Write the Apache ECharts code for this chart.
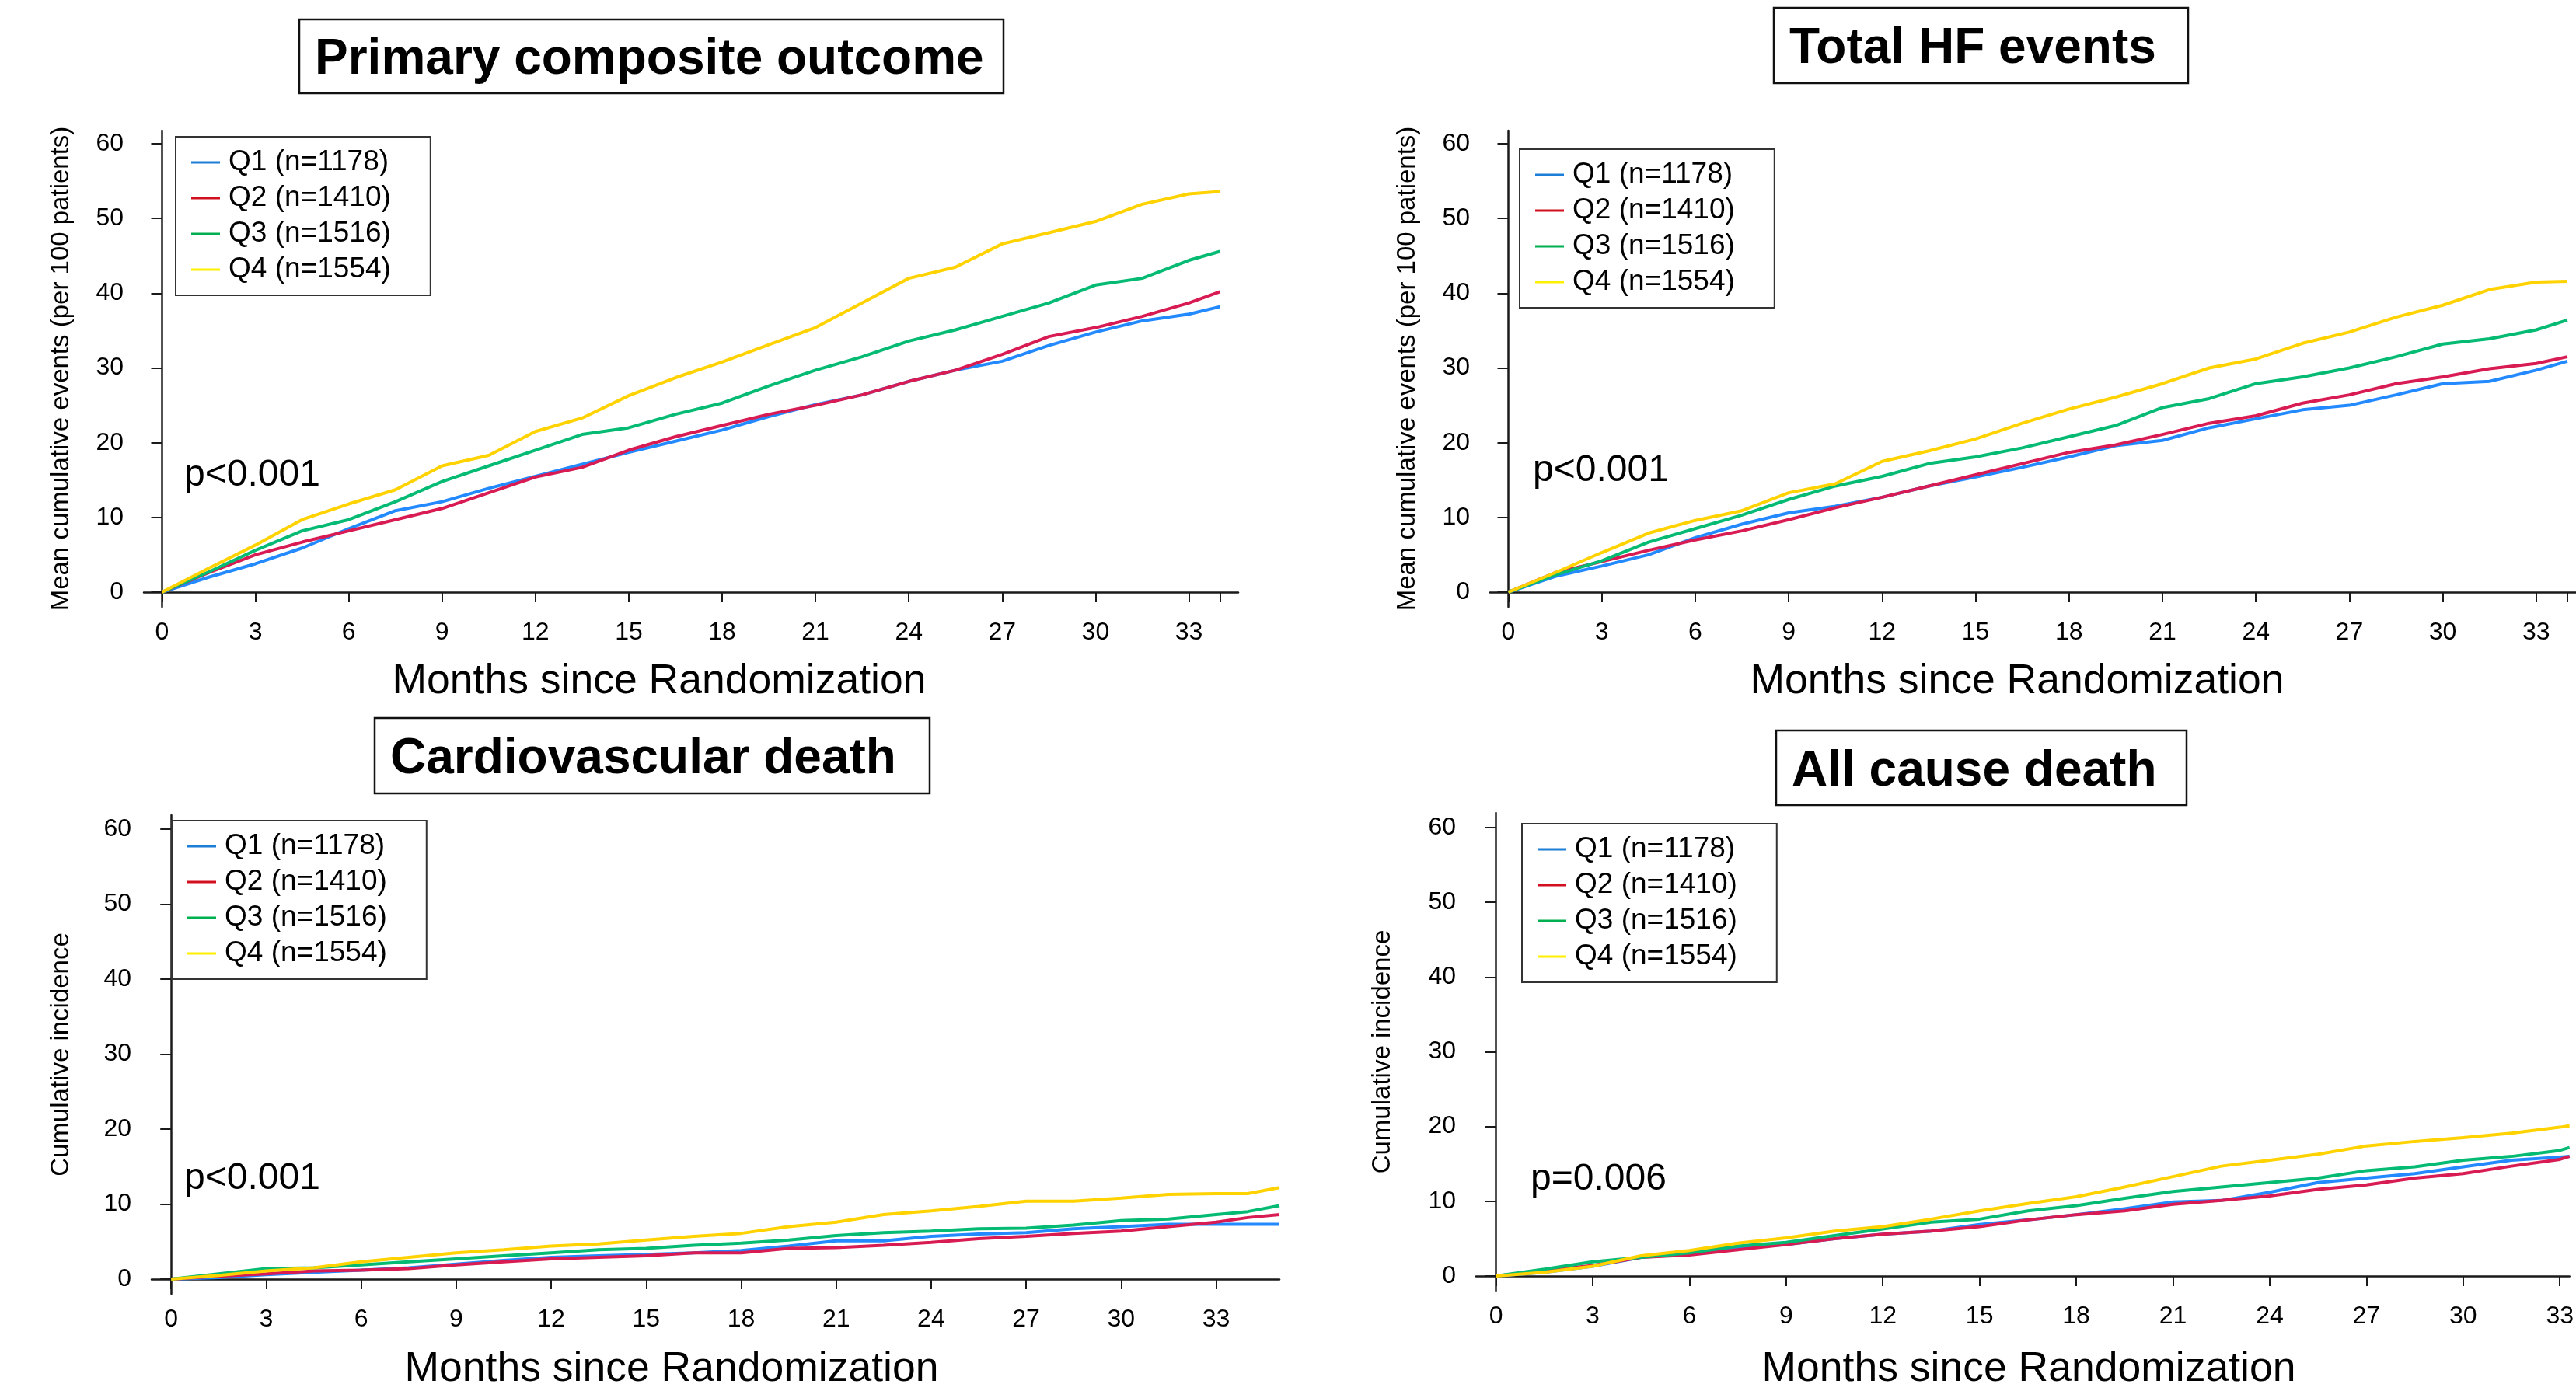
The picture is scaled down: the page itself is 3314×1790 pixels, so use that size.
<!DOCTYPE html>
<html lang="en">
<head>
    <meta charset="UTF-8">
    <title>cumulative_events_quartiles</title>
    <script src="https://cdn.jsdelivr.net/npm/echarts@6/dist/echarts.min.js"></script>
    <style>
        html, body { margin: 0; padding: 0; background: #fff; }
    </style>
</head>

<body>
    <div id="mainChart" style="width: 3314px; height: 1790px;"></div>
    <script>
        // legend names and colours
        const seriesNames = ['Q1 (n=1178)', 'Q2 (n=1410)', 'Q3 (n=1516)', 'Q4 (n=1554)']
        const lineColors = ['#2389FF', '#D81B52', '#05BA72', '#FFD200']
        const legendColors = ['#1C7ED6', '#D10F1F', '#00B050', '#FFF000']

        const xTicks = [0, 3, 6, 9, 12, 15, 18, 21, 24, 27, 30, 33]
        const yTicks = [0, 10, 20, 30, 40, 50, 60]

        // months at which the curves were read
        const monthsTop = [0, 1.5, 3, 4.5, 6, 7.5, 9, 10.5, 12, 13.5, 15, 16.5, 18, 19.5, 21, 22.5, 24, 25.5, 27, 28.5, 30, 31.5, 33, 34]
        const monthsCvd = [0, 1.5, 3, 4.5, 6, 7.5, 9, 10.5, 12, 13.5, 15, 16.5, 18, 19.5, 21, 22.5, 24, 25.5, 27, 28.5, 30, 31.5, 33, 34, 35]
        const monthsAcd = [0, 1.5, 3, 4.5, 6, 7.5, 9, 10.5, 12, 13.5, 15, 16.5, 18, 19.5, 21, 22.5, 24, 25.5, 27, 28.5, 30, 31.5, 33, 33.3]

        // Primary composite outcome
        const primaryQ1 = [0, 2.0, 3.8, 5.9, 8.5, 10.9, 12.1, 13.9, 15.5, 17.1, 18.7, 20.2, 21.7, 23.5, 25.1, 26.4, 28.2, 29.7, 30.9, 33.0, 34.8, 36.3, 37.2, 38.2]
        const primaryQ2 = [0, 2.6, 5.0, 6.7, 8.2, 9.7, 11.2, 13.3, 15.4, 16.7, 19.0, 20.8, 22.3, 23.8, 25.0, 26.4, 28.2, 29.7, 31.8, 34.2, 35.4, 36.9, 38.7, 40.2]
        const primaryQ3 = [0, 2.7, 5.6, 8.2, 9.7, 12.1, 14.8, 16.9, 19.0, 21.1, 22.0, 23.8, 25.3, 27.6, 29.7, 31.5, 33.6, 35.1, 36.9, 38.7, 41.1, 42.0, 44.4, 45.6]
        const primaryQ4 = [0, 3.2, 6.3, 9.7, 11.8, 13.7, 16.9, 18.3, 21.5, 23.3, 26.3, 28.7, 30.8, 33.1, 35.4, 38.7, 42.0, 43.5, 46.6, 48.1, 49.6, 51.9, 53.3, 53.6]

        // Total HF events
        const hfQ1 = [0, 2.1, 3.5, 5.0, 7.3, 9.1, 10.6, 11.5, 12.7, 14.2, 15.4, 16.7, 18.1, 19.6, 20.3, 22.0, 23.2, 24.4, 25.0, 26.4, 27.9, 28.2, 29.7, 30.9]
        const hfQ2 = [0, 2.6, 4.1, 5.6, 7.0, 8.2, 9.7, 11.3, 12.7, 14.2, 15.7, 17.2, 18.7, 19.7, 21.1, 22.6, 23.6, 25.3, 26.4, 27.9, 28.8, 29.9, 30.6, 31.5]
        const hfQ3 = [0, 2.3, 4.2, 6.7, 8.5, 10.3, 12.4, 14.2, 15.5, 17.2, 18.1, 19.3, 20.8, 22.3, 24.7, 25.9, 27.9, 28.8, 30.0, 31.5, 33.2, 33.9, 35.1, 36.4]
        const hfQ4 = [0, 2.6, 5.3, 7.9, 9.6, 10.9, 13.3, 14.5, 17.5, 18.9, 20.5, 22.6, 24.5, 26.1, 27.9, 30.0, 31.2, 33.3, 34.8, 36.8, 38.4, 40.5, 41.5, 41.6]

        // Cardiovascular death
        const cvdQ1 = [0, 0.2, 0.6, 0.9, 1.2, 1.5, 2.0, 2.5, 2.9, 3.1, 3.3, 3.5, 3.8, 4.4, 5.1, 5.1, 5.7, 6.0, 6.2, 6.7, 7.0, 7.3, 7.3, 7.3, 7.3]
        const cvdQ2 = [0, 0.4, 0.7, 1.1, 1.2, 1.4, 1.9, 2.3, 2.7, 2.9, 3.1, 3.5, 3.5, 4.1, 4.2, 4.5, 4.9, 5.4, 5.7, 6.1, 6.4, 7.0, 7.6, 8.2, 8.6]
        const cvdQ3 = [0, 0.7, 1.4, 1.5, 1.9, 2.3, 2.7, 3.1, 3.5, 3.9, 4.1, 4.5, 4.8, 5.2, 5.8, 6.2, 6.4, 6.7, 6.8, 7.2, 7.8, 8.0, 8.6, 9.0, 9.8]
        const cvdQ4 = [0, 0.5, 1.1, 1.5, 2.3, 2.9, 3.5, 3.9, 4.4, 4.7, 5.2, 5.7, 6.1, 7.0, 7.6, 8.6, 9.1, 9.7, 10.4, 10.4, 10.8, 11.3, 11.4, 11.4, 12.2]

        // All cause death
        const acdQ1 = [0, 0.5, 1.3, 2.5, 2.9, 3.7, 4.2, 5.0, 5.6, 6.0, 6.9, 7.5, 8.2, 9.0, 9.9, 10.1, 11.2, 12.5, 13.1, 13.7, 14.6, 15.5, 15.9, 16.0]
        const acdQ2 = [0, 0.7, 1.4, 2.5, 2.8, 3.5, 4.2, 5.0, 5.6, 6.0, 6.6, 7.5, 8.2, 8.7, 9.6, 10.1, 10.7, 11.6, 12.2, 13.1, 13.7, 14.7, 15.6, 16.0]
        const acdQ3 = [0, 0.9, 1.9, 2.5, 3.1, 4.0, 4.5, 5.4, 6.3, 7.2, 7.6, 8.7, 9.4, 10.4, 11.3, 11.9, 12.5, 13.1, 14.1, 14.6, 15.5, 16.0, 16.8, 17.2]
        const acdQ4 = [0, 0.5, 1.3, 2.7, 3.4, 4.4, 5.1, 6.0, 6.6, 7.6, 8.7, 9.7, 10.6, 11.9, 13.3, 14.7, 15.5, 16.3, 17.4, 18.0, 18.5, 19.1, 19.9, 20.1]

        const fontFamily = '"Liberation Sans", Arial, sans-serif'

        // layout of the four panels (pixels)
        const panels = [
            {
                title: 'Primary composite outcome', box: [385, 25, 906, 95],
                grid: { left: 185, top: 168, width: 1408, height: 613 },
                xMin: -0.587, xMax: 34.587, yMin: -1.976, yMax: 61.77, xTickExtra: [34],
                yName: 'Mean cumulative events (per 100 patients)', yNameGap: 90,
                legend: [226, 176], pText: 'p<0.001', pPos: [237, 612],
                xName: [848, 877],
                months: monthsTop, values: [primaryQ1, primaryQ2, primaryQ3, primaryQ4]
            },
            {
                title: 'Total HF events', box: [2282, 10, 533, 97],
                grid: { left: 1917, top: 168, width: 1397, height: 613 },
                xMin: -0.5865, xMax: 34.277, yMin: -1.976, yMax: 61.77, xTickExtra: [34],
                yName: 'Mean cumulative events (per 100 patients)', yNameGap: 90,
                legend: [1955, 192], pText: 'p<0.001', pPos: [1972, 606],
                xName: [2595, 877],
                months: monthsTop, values: [hfQ1, hfQ2, hfQ3, hfQ4]
            },
            {
                title: 'Cardiovascular death', box: [482, 924, 714, 97],
                grid: { left: 195, top: 1049, width: 1451, height: 616 },
                xMin: -0.619, xMax: 35.0, yMin: -1.969, yMax: 61.87, xTickExtra: [],
                yName: 'Cumulative incidence', yNameGap: 100,
                legend: [221, 1056], pText: 'p<0.001', pPos: [237, 1517],
                xName: [864, 1762],
                months: monthsCvd, values: [cvdQ1, cvdQ2, cvdQ3, cvdQ4]
            },
            {
                title: 'All cause death', box: [2285, 940, 528, 96],
                grid: { left: 1899, top: 1046, width: 1415, height: 615 },
                xMin: -0.616, xMax: 33.3, yMin: -1.976, yMax: 61.97, xTickExtra: [],
                yName: 'Cumulative incidence', yNameGap: 104,
                legend: [1958, 1060], pText: 'p=0.006', pPos: [1969, 1518],
                xName: [2610, 1762],
                months: monthsAcd, values: [acdQ1, acdQ2, acdQ3, acdQ4]
            }
        ]

        const axisLine = { show: true, lineStyle: { color: '#1a1a1a', width: 2.5 } }
        const tickStyle = { color: '#1a1a1a', width: 2 }

        let option = {
            animation: false,
            backgroundColor: '#fff',
            grid: [], xAxis: [], yAxis: [], legend: [], series: [], graphic: []
        }

        panels.forEach((p, i) => {
            option.grid.push(Object.assign({ containLabel: false }, p.grid))

            option.xAxis.push({
                type: 'value', gridIndex: i, min: p.xMin, max: p.xMax,
                axisLine: axisLine,
                axisTick: { show: true, length: 13, lineStyle: tickStyle, customValues: xTicks.concat(p.xTickExtra) },
                axisLabel: { customValues: xTicks, margin: 17, fontSize: 32, color: '#000', fontFamily: fontFamily },
                splitLine: { show: false }
            })

            option.yAxis.push({
                type: 'value', gridIndex: i, min: p.yMin, max: p.yMax,
                name: p.yName, nameLocation: 'middle', nameGap: p.yNameGap,
                nameTextStyle: { fontSize: 33, color: '#000', fontFamily: fontFamily },
                axisLine: axisLine,
                axisTick: { show: true, length: 14, lineStyle: tickStyle, customValues: yTicks },
                axisLabel: { customValues: yTicks, margin: 26, fontSize: 32, color: '#000', fontFamily: fontFamily },
                splitLine: { show: false }
            })

            option.legend.push({
                orient: 'vertical', left: p.legend[0], top: p.legend[1],
                padding: [10, 51, 10, 20], itemGap: 0,
                itemWidth: 37, itemHeight: 3, icon: 'rect',
                borderColor: '#333', borderWidth: 2, backgroundColor: '#fff',
                selectedMode: false,
                textStyle: { fontSize: 37, lineHeight: 46, color: '#000', fontFamily: fontFamily, padding: [0, 0, 0, 6] },
                data: seriesNames.map((n, k) => ({ name: n, itemStyle: { color: legendColors[k] } }))
            })

            p.values.forEach((vals, k) => {
                option.series.push({
                    type: 'line', name: seriesNames[k],
                    xAxisIndex: i, yAxisIndex: i,
                    data: p.months.map((m, j) => [m, vals[j]]),
                    symbol: 'none', silent: true,
                    lineStyle: { color: lineColors[k], width: 4 },
                    itemStyle: { color: lineColors[k] },
                    z: 2 + k
                })
            })

            // title box
            option.graphic.push({
                type: 'rect', x: p.box[0], y: p.box[1],
                shape: { width: p.box[2], height: p.box[3] },
                style: { fill: '#fff', stroke: '#111', lineWidth: 2.5 }
            })
            option.graphic.push({
                type: 'text', x: p.box[0] + 20, y: p.box[1] + p.box[3] / 2 + 5,
                style: {
                    text: p.title, fill: '#000',
                    font: 'bold 64px ' + fontFamily,
                    align: 'left', verticalAlign: 'middle',
                    textAlign: 'left', textVerticalAlign: 'middle'
                }
            })

            // p value
            option.graphic.push({
                type: 'text', x: p.pPos[0], y: p.pPos[1],
                style: {
                    text: p.pText, fill: '#000', font: '48px ' + fontFamily,
                    align: 'left', verticalAlign: 'middle',
                    textAlign: 'left', textVerticalAlign: 'middle'
                }
            })

            // x axis title
            option.graphic.push({
                type: 'text', x: p.xName[0], y: p.xName[1],
                style: {
                    text: 'Months since Randomization', fill: '#000', font: '53.5px ' + fontFamily,
                    align: 'center', verticalAlign: 'middle',
                    textAlign: 'center', textVerticalAlign: 'middle'
                }
            })
        })

        let charts = echarts.init(document.querySelector('#mainChart'))
        charts.setOption(option, true)
    </script>
</body>

</html>
